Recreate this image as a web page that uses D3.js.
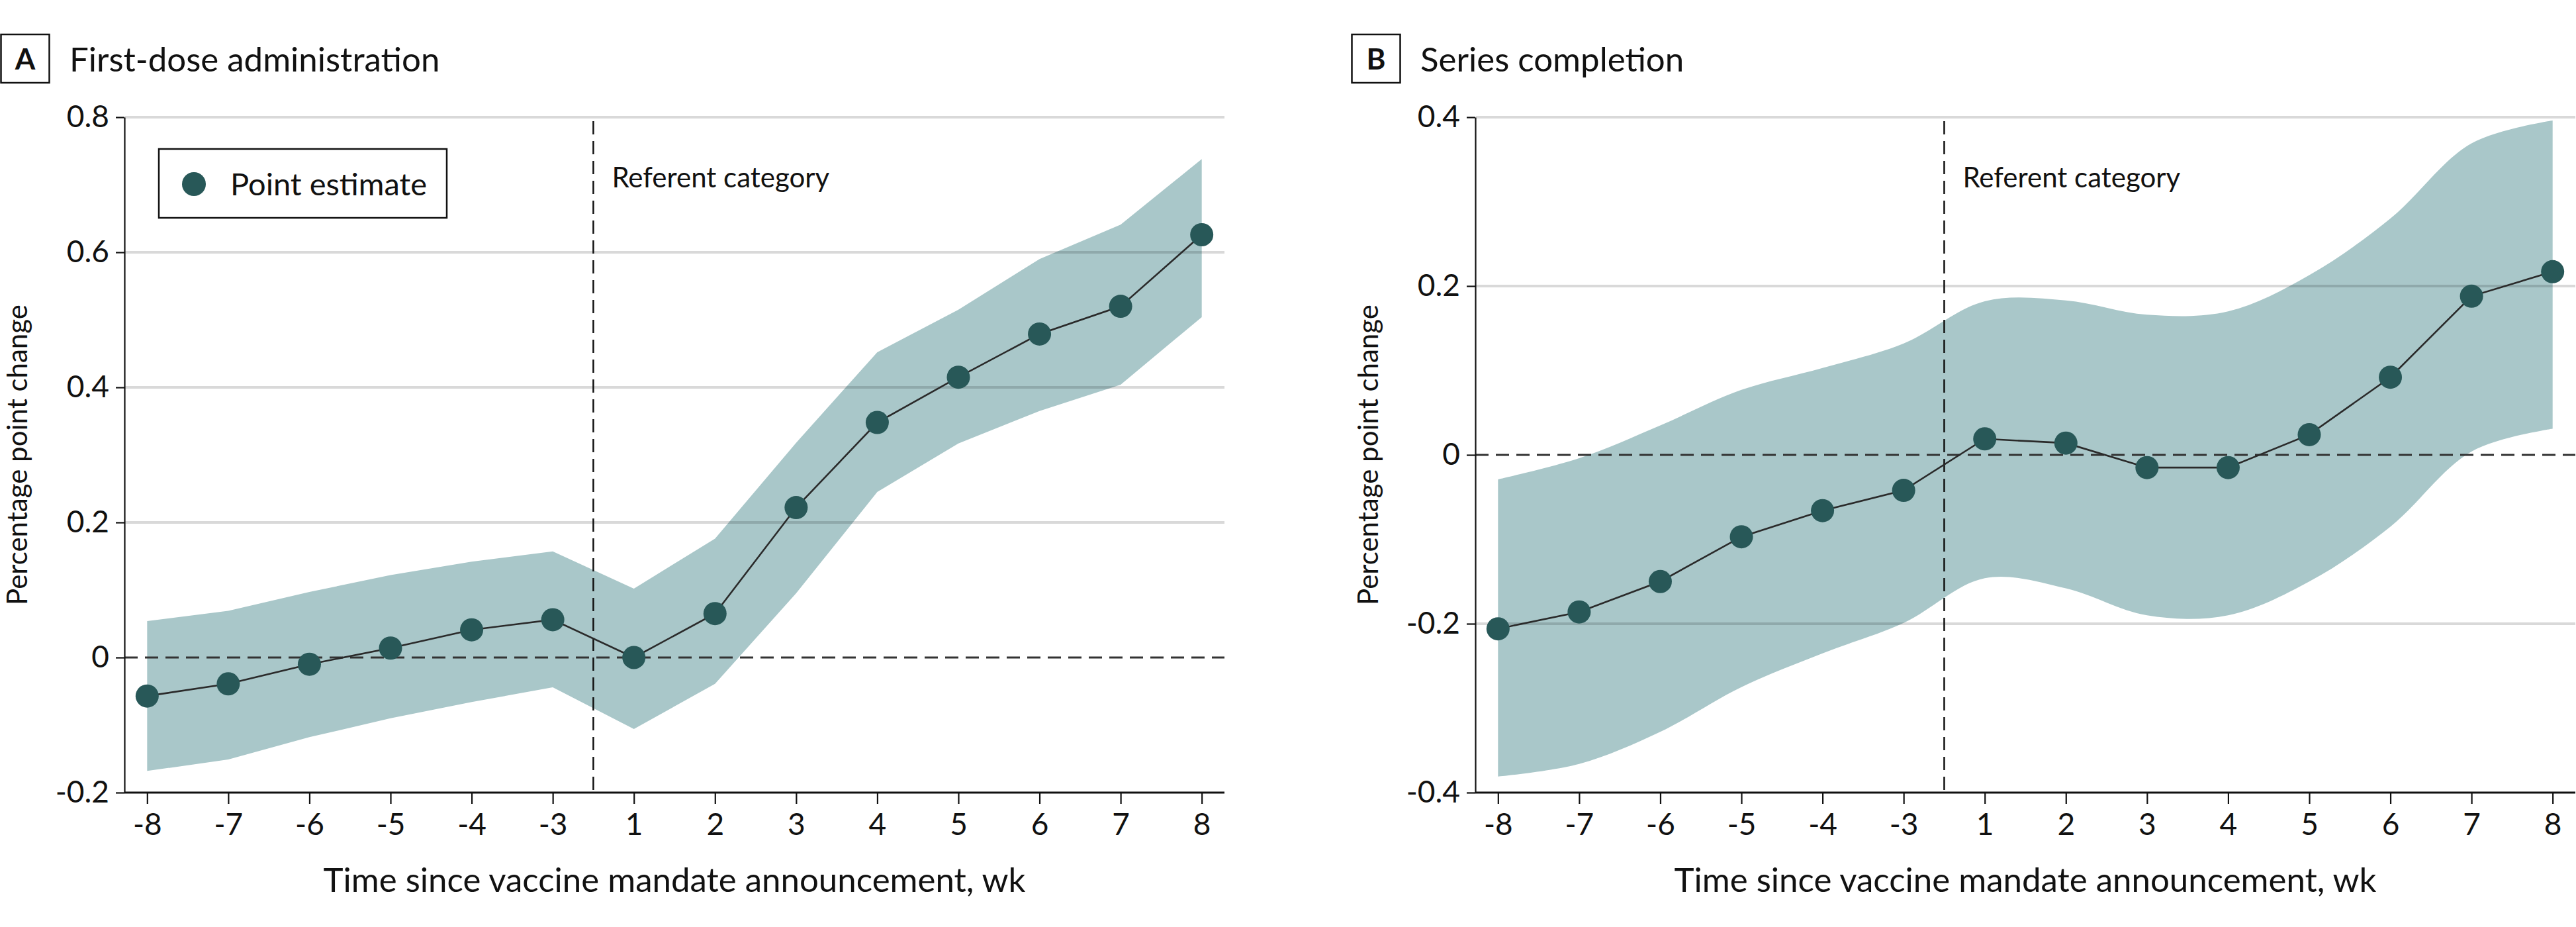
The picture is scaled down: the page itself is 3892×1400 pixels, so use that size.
<!DOCTYPE html>
<html>
<head>
<meta charset="utf-8">
<script src="https://cdn.jsdelivr.net/npm/d3@7"></script>
<style>
  html, body { margin: 0; padding: 0; background: #fff; }
  svg { display: block; }
  text { font-family: Lato, "Open Sans", sans-serif; fill: #111; }
</style>
</head>
<body>
<script>
// ---- Data ----
const weeks = [-8, -7, -6, -5, -4, -3, 1, 2, 3, 4, 5, 6, 7, 8];

// Panel A: first-dose administration
const estimateA = [-0.057, -0.039, -0.010, 0.014, 0.041, 0.056, 0.000, 0.065, 0.222, 0.348, 0.415, 0.479, 0.520, 0.626];
const upperA    = [0.054, 0.069, 0.097, 0.122, 0.142, 0.157, 0.102, 0.176, 0.318, 0.452, 0.515, 0.590, 0.641, 0.738];
const lowerA    = [-0.168, -0.151, -0.118, -0.090, -0.066, -0.044, -0.106, -0.039, 0.095, 0.245, 0.317, 0.365, 0.404, 0.504];

// Panel B: series completion
const estimateB = [-0.206, -0.186, -0.150, -0.097, -0.066, -0.042, 0.019, 0.014, -0.015, -0.015, 0.024, 0.092, 0.188, 0.217];
const upperB    = [-0.029, -0.004, 0.035, 0.077, 0.103, 0.132, 0.182, 0.183, 0.166, 0.170, 0.213, 0.280, 0.369, 0.396];
const lowerB    = [-0.381, -0.366, -0.328, -0.275, -0.235, -0.199, -0.146, -0.158, -0.190, -0.190, -0.150, -0.085, 0.004, 0.031];

const yTicksA = [-0.2, 0, 0.2, 0.4, 0.6, 0.8];
const yTicksB = [-0.4, -0.2, 0, 0.2, 0.4];
const panelLetters = ["A", "B"];
const panelTitles = ["First-dose administration", "Series completion"];
const xAxisTitle = "Time since vaccine mandate announcement, wk";
const yAxisTitle = "Percentage point change";
const legendLabel = "Point estimate";
const referentLabel = "Referent category";

// ---- Layout ----
const W = 3892, H = 1400;
const plotLeft = 188, plotRight = 1850, plotTop = 177, plotBottom = 1197;
const panelOffset = 2041;

const bandColor = "#a9c7c9";
const pointColor = "#285858";

const svg = d3.select("body").append("svg")
  .attr("width", W).attr("height", H)
  .attr("viewBox", `0 0 ${W} ${H}`);

const fmt = v => (Math.abs(v) < 1e-9 ? "0" : String(+v.toFixed(1)));

function drawPanel(i, est, up, lo, yDomain, yTicks, curve, showLegend) {
  const g = svg.append("g").attr("transform", `translate(${i * panelOffset},0)`);

  const x = d3.scalePoint().domain(weeks).range([plotLeft, plotRight]).padding(0.28);
  const y = d3.scaleLinear().domain(yDomain).range([plotBottom, plotTop]);

  const rows = weeks.map((w, k) => ({ w, est: est[k], up: up[k], lo: lo[k] }));

  // Confidence band
  const area = d3.area()
    .x(d => x(d.w)).y0(d => y(d.lo)).y1(d => y(d.up))
    .curve(curve);
  g.append("path").datum(rows)
    .attr("d", area).attr("fill", bandColor);

  // Gridlines (except zero and bottom)
  g.append("g").selectAll("line")
    .data(yTicks.filter(t => t !== 0 && t !== yDomain[0]))
    .join("line")
    .attr("x1", plotLeft + 1).attr("x2", plotRight)
    .attr("y1", d => y(d)).attr("y2", d => y(d))
    .attr("stroke", "rgba(0,0,0,0.15)").attr("stroke-width", 4);

  // Zero reference line
  g.append("line")
    .attr("x1", plotLeft).attr("x2", plotRight)
    .attr("y1", y(0)).attr("y2", y(0))
    .attr("stroke", "#333").attr("stroke-width", 3)
    .attr("stroke-dasharray", "20,11");

  // Vertical referent line between -3 and 1
  const xRef = (x(-3) + x(1)) / 2;
  g.append("line")
    .attr("x1", xRef).attr("x2", xRef)
    .attr("y1", plotTop + 6).attr("y2", plotBottom)
    .attr("stroke", "#111").attr("stroke-width", 2.5)
    .attr("stroke-dasharray", "20,10");
  g.append("text")
    .attr("x", xRef + 28).attr("y", 283)
    .attr("font-size", 42)
    .text(referentLabel);

  // Axes
  const yAxis = d3.axisLeft(y).tickValues(yTicks).tickFormat(fmt)
    .tickSize(13).tickSizeOuter(0).tickPadding(10);
  const ya = g.append("g").attr("transform", `translate(${plotLeft},0)`).call(yAxis);
  ya.select(".domain").attr("stroke", "#111").attr("stroke-width", 2.2);
  ya.selectAll(".tick line").attr("stroke", "#111").attr("stroke-width", 2.2);
  ya.selectAll(".tick text").attr("font-size", 46).attr("font-family", "Lato, sans-serif").attr("fill", "#111");

  const xAxis = d3.axisBottom(x).tickSize(17).tickSizeOuter(0).tickPadding(14)
    .tickFormat(d => String(d));
  const xa = g.append("g").attr("transform", `translate(0,${plotBottom})`).call(xAxis);
  xa.select(".domain").attr("d", `M${plotLeft},0H${plotRight}`)
    .attr("stroke", "#111").attr("stroke-width", 3.2);
  xa.selectAll(".tick line").attr("stroke", "#111").attr("stroke-width", 2.2);
  xa.selectAll(".tick text").attr("font-size", 46).attr("font-family", "Lato, sans-serif").attr("fill", "#111");

  // Estimate line and points
  const line = d3.line().x(d => x(d.w)).y(d => y(d.est));
  g.append("path").datum(rows).attr("d", line)
    .attr("fill", "none").attr("stroke", "#2a2a2a").attr("stroke-width", 2.6);
  g.append("g").selectAll("circle").data(rows).join("circle")
    .attr("cx", d => x(d.w)).attr("cy", d => y(d.est))
    .attr("r", 17.5).attr("fill", pointColor);

  // Axis titles
  g.append("text")
    .attr("x", (plotLeft + plotRight) / 2).attr("y", 1347)
    .attr("text-anchor", "middle").attr("font-size", 51)
    .text(xAxisTitle);
  g.append("text")
    .attr("transform", `translate(41,${(plotTop + plotBottom) / 2}) rotate(-90)`)
    .attr("text-anchor", "middle").attr("font-size", 42)
    .text(yAxisTitle);

  // Panel letter box and title
  g.append("rect").attr("x", 1.5).attr("y", 52).attr("width", 73).attr("height", 73)
    .attr("fill", "none").attr("stroke", "#111").attr("stroke-width", 2.5);
  g.append("text").attr("x", 38).attr("y", 105).attr("text-anchor", "middle")
    .attr("font-size", 44).attr("font-weight", 700)
    .text(panelLetters[i]);
  g.append("text").attr("x", 105).attr("y", 108)
    .attr("font-size", 51)
    .text(panelTitles[i]);

  // Legend
  if (showLegend) {
    const lg = g.append("g");
    lg.append("rect").attr("x", 240).attr("y", 225).attr("width", 435).attr("height", 104)
      .attr("fill", "#fff").attr("stroke", "#111").attr("stroke-width", 2.5);
    lg.append("circle").attr("cx", 293).attr("cy", 278).attr("r", 18).attr("fill", pointColor);
    lg.append("text").attr("x", 348).attr("y", 295).attr("font-size", 47).text(legendLabel);
  }
}

drawPanel(0, estimateA, upperA, lowerA, [-0.2, 0.8], yTicksA, d3.curveLinear, true);
drawPanel(1, estimateB, upperB, lowerB, [-0.4, 0.4], yTicksB, d3.curveCatmullRom.alpha(0.5), false);
</script>
</body>
</html>
